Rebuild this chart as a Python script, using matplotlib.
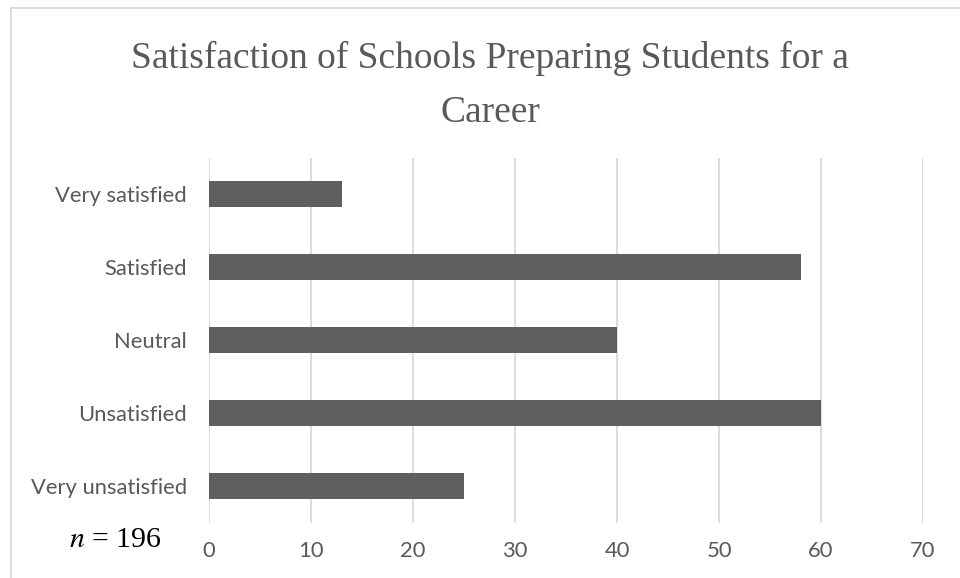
import matplotlib
matplotlib.use("Agg")
import matplotlib.pyplot as plt
from matplotlib.patches import Rectangle

# Survey responses
categories = ["Very unsatisfied", "Unsatisfied", "Neutral", "Satisfied", "Very satisfied"]
counts = [25, 60, 40, 58, 13]
x_ticks = [0, 10, 20, 30, 40, 50, 60, 70]
title_lines = ["Satisfaction of Schools Preparing Students for a", "Career"]
n_total = sum(counts)

plt.rcParams["mathtext.fontset"] = "stix"

W, H = 960, 578
fig = plt.figure(figsize=(W / 100, H / 100), dpi=100)

# Light chart-area frame (only its top and left edges fall inside the canvas)
fig.patches.append(Rectangle((10.5 / W, -0.05), 1.1, 1.05 - 8 / H, transform=fig.transFigure,
                             fill=False, edgecolor="#d9d9d9", linewidth=1.3))

ax = fig.add_axes([209 / W, 1 - 522.5 / H, (923 - 209) / W, (522.5 - 157.5) / H])
ax.barh(range(len(categories)), counts, height=0.36, color="#5f5f5f", zorder=3)

ax.set_xlim(0, 70)
ax.set_ylim(-0.5, len(categories) - 0.5)
ax.set_xticks(x_ticks)
ax.set_yticks(range(len(categories)))
ax.set_yticklabels(categories)
ax.grid(axis="x", color="#d9d9d9", linewidth=1.3, zorder=0)
for s in ax.spines.values():
    s.set_visible(False)
ax.tick_params(axis="both", length=0, labelcolor="#595959", labelsize=15.8)
ax.tick_params(axis="x", pad=13)
ax.tick_params(axis="y", pad=16)
for lbl in ax.get_xticklabels() + ax.get_yticklabels():
    lbl.set_fontfamily("Lato")

for text, base_y in zip(title_lines, [68, 122]):
    fig.text(490 / W, 1 - base_y / H, text, ha="center", va="baseline",
             fontsize=27, color="#595959", family="Liberation Serif")

fig.text(115 / W, 1 - 547 / H, rf"$n$ = {n_total}", ha="center", va="baseline",
         fontsize=21.5, color="black", family="Liberation Serif")

fig.savefig("out.png", dpi=100, facecolor="white")
